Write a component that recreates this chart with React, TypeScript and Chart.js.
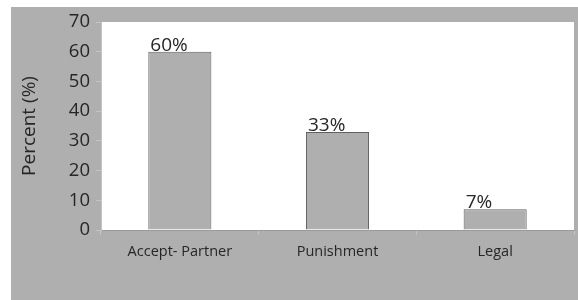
import React, { useEffect, useRef } from "react";
import { Chart, registerables } from "chart.js";

Chart.register(...registerables);

const categories = ["Accept- Partner", "Punishment", "Legal"];
const percentValues = [60, 33, 7];
const valueLabels = ["60%", "33%", "7%"];
const yTicks = [0, 10, 20, 30, 40, 50, 60, 70];

const FONT = "'Open Sans', sans-serif";
const TEXT = "#262626";
const BG = "#afafaf";

const framePlugin = {
  id: "frame",
  beforeDraw(chart: any) {
    const { ctx, chartArea, width, height } = chart;
    ctx.save();
    ctx.fillStyle = "#ffffff";
    ctx.fillRect(0, 0, width, height);
    ctx.fillStyle = BG;
    ctx.fillRect(11, 7, width - 11, height - 7);
    ctx.fillStyle = "#ffffff";
    ctx.fillRect(chartArea.left, chartArea.top, chartArea.right - chartArea.left, chartArea.bottom - chartArea.top);
    ctx.restore();
  },
};

const labelPlugin = {
  id: "valueLabels",
  afterDatasetsDraw(chart: any) {
    const { ctx } = chart;
    const meta = chart.getDatasetMeta(0);
    ctx.save();
    ctx.font = `19px ${FONT}`;
    ctx.fillStyle = TEXT;
    ctx.textAlign = "left";
    ctx.textBaseline = "alphabetic";
    meta.data.forEach((bar: any, i: number) => {
      const left = bar.x - bar.width / 2;
      ctx.fillText(valueLabels[i], left + 2, bar.y - 1);
    });
    ctx.restore();
  },
};

export default function App() {
  const ref = useRef<HTMLCanvasElement>(null);
  useEffect(() => {
    if (!ref.current) return;
    const chart = new Chart(ref.current, {
      type: "bar",
      data: {
        labels: categories,
        datasets: [
          {
            data: percentValues,
            backgroundColor: BG,
            borderColor: "#5f5f5f",
            borderWidth: 1,
            borderSkipped: "bottom",
            categoryPercentage: 1,
            barPercentage: 0.4,
          },
        ],
      },
      options: {
        animation: false,
        responsive: false,
        events: [],
        layout: { padding: { top: 22, right: 4, left: 0, bottom: 0 } },
        plugins: { legend: { display: false }, tooltip: { enabled: false } },
        scales: {
          x: {
            afterFit(scale: any) {
              scale.height = 70;
            },
            grid: {
              display: true,
              drawOnChartArea: false,
              drawTicks: true,
              tickLength: 5,
              color: "#c4c4c4",
              offset: true,
            },
            border: { display: true, color: "#9a9a9a", width: 1 },
            ticks: {
              font: { family: FONT, size: 14.5 },
              color: TEXT,
              padding: 8,
              maxRotation: 0,
            },
          },
          y: {
            min: 0,
            max: 70,
            afterFit(scale: any) {
              scale.width = 101;
            },
            afterBuildTicks(scale: any) {
              scale.ticks = yTicks.map((v) => ({ value: v }));
            },
            grid: {
              display: true,
              drawOnChartArea: false,
              drawTicks: true,
              tickLength: 5,
              color: "#c4c4c4",
            },
            border: { display: true, color: "#c4c4c4", width: 1 },
            ticks: {
              font: { family: FONT, size: 18.5 },
              color: TEXT,
              padding: 6,
            },
            title: {
              display: true,
              text: "Percent (%)",
              font: { family: FONT, size: 19 },
              color: TEXT,
              padding: { top: 18, bottom: 0 },
            },
          },
        },
      },
      plugins: [framePlugin, labelPlugin],
    });
    return () => chart.destroy();
  }, []);
  return (
    <div style={{ position: "fixed", left: 0, top: 0, width: 578, height: 300 }}>
      <canvas ref={ref} width={578} height={300} style={{ display: "block", width: 578, height: 300 }} />
    </div>
  );
}
